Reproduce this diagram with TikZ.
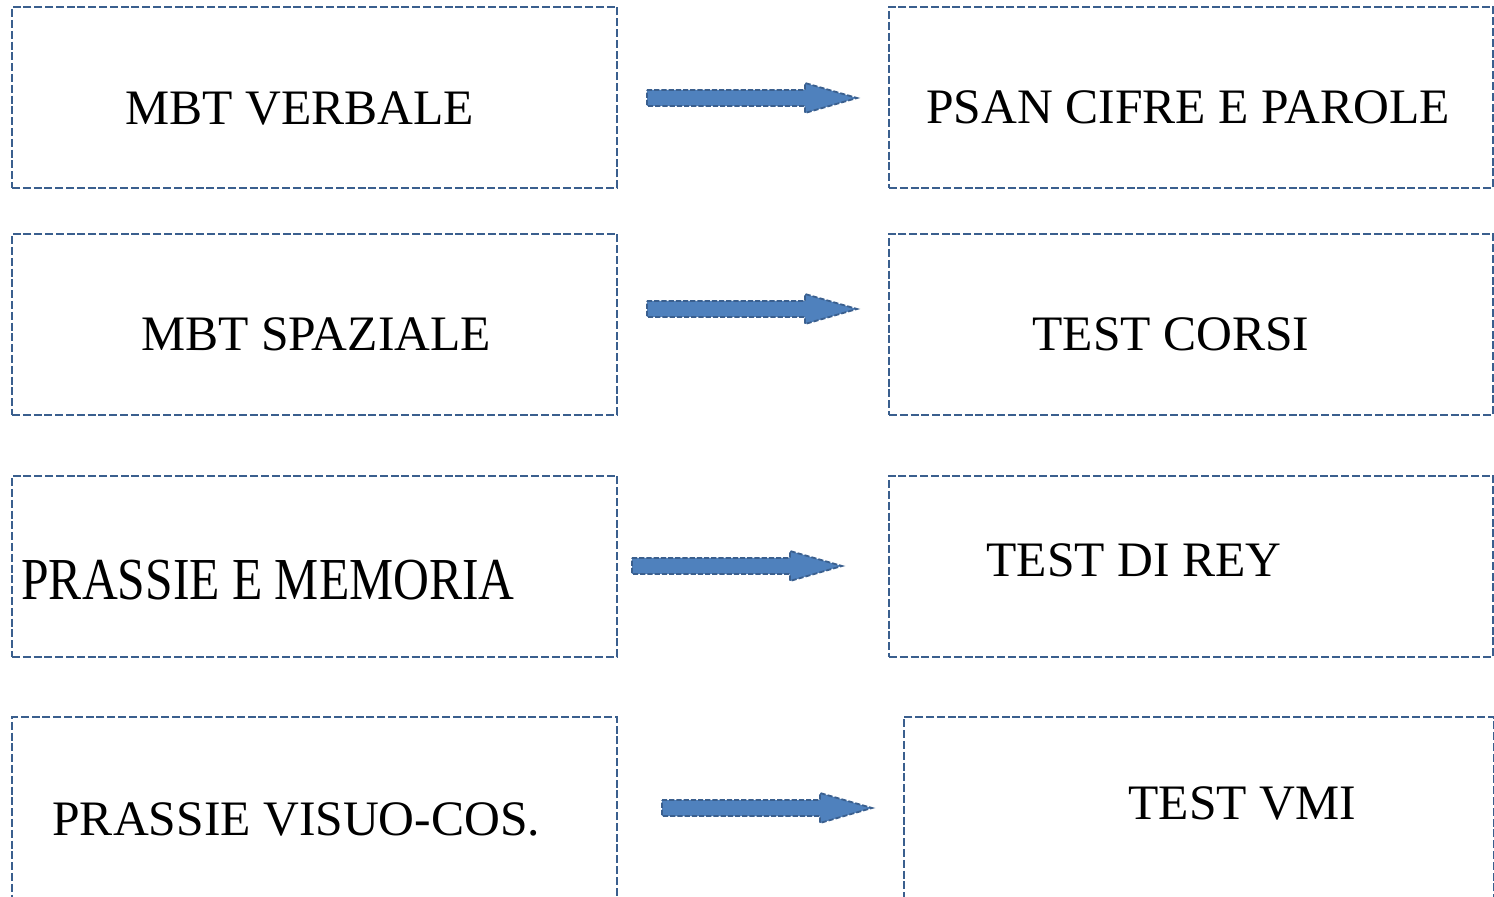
\documentclass[tikz,border=0pt]{standalone}
\usepackage{fontspec}
\setmainfont{Liberation Serif}
\definecolor{edgeblue}{HTML}{3A5F8E}
\definecolor{fillblue}{HTML}{4F81BD}
\tikzset{
  box/.style={draw=edgeblue, line width=1pt, dash pattern=on 4pt off 1.4pt,
    inner sep=0pt, outer sep=0pt, anchor=north west},
  label/.style={anchor=base west, inner sep=0pt, font=\fontsize{24.8}{28}\selectfont},
  arrowbox/.style={draw=edgeblue, fill=fillblue, line width=0.9pt,
    dash pattern=on 2.6pt off 1pt, line join=miter},
}
% block arrow: tail x, centre y
\newcommand\blockarrow[2]{%
  \draw[arrowbox] (#1,#2-8) -- (#1+158,#2-8) -- (#1+158,#2-15) -- (#1+210,#2)
    -- (#1+158,#2+15) -- (#1+158,#2+8) -- (#1,#2+8) -- cycle;}
\begin{document}
\begin{tikzpicture}[x=0.5pt, y=-0.5pt]
\clip (0,0) rectangle (1494,897);
\fill[white] (0,0) rectangle (1494,897);

% left column
\node[box, minimum width=302.5pt, minimum height=90.5pt] (l1) at (12,7) {};
\node[box, minimum width=302.5pt, minimum height=90.5pt] (l2) at (12,234) {};
\node[box, minimum width=302.5pt, minimum height=90.5pt] (l3) at (12,476) {};
\node[box, minimum width=302.5pt, minimum height=100pt] (l4) at (12,717) {};

% right column
\node[box, minimum width=302pt, minimum height=90.5pt] (r1) at (889,7) {};
\node[box, minimum width=302pt, minimum height=90.5pt] (r2) at (889,234) {};
\node[box, minimum width=302pt, minimum height=90.5pt] (r3) at (889,476) {};
\node[box, minimum width=295pt, minimum height=100pt] (r4) at (904,717) {};

% texts
\node[label] (t1) at (125,124.5) {MBT VERBALE};
\node[label] (u1) at (926,123.5) {PSAN CIFRE E PAROLE};
\node[label] (t2) at (141,350.5) {MBT SPAZIALE};
\node[label] (u2) at (1032,350.5) {TEST CORSI};
\node[label, yscale=1.2] (t3) at (21,600) {PRASSIE E MEMORIA};
\node[label] (u3) at (986,576.5) {TEST DI REY};
\node[label] (t4) at (52,835) {PRASSIE VISUO-COS.};
\node[label] (u4) at (1128,819) {TEST VMI};

% arrows
\blockarrow{647}{98}
\blockarrow{647}{309}
\blockarrow{632}{566}
\blockarrow{662}{808}
\end{tikzpicture}
\end{document}
